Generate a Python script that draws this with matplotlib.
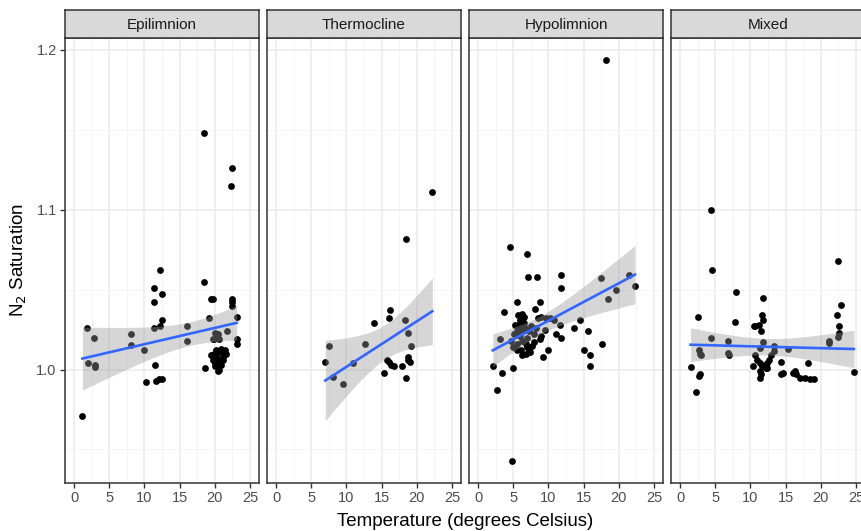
import numpy as np
import matplotlib
matplotlib.use("Agg")
import matplotlib.pyplot as plt

plt.rcParams['font.family'] = ['Liberation Sans', 'DejaVu Sans']

panels = ["Epilimnion", "Thermocline", "Hypolimnion", "Mixed"]

# temperature (deg C) and N2 saturation
epi_t = [18.4, 22.4, 22.3, 12.2, 11.3, 12.5, 11.3, 18.4, 19.5, 19.8, 22.5, 22.5,
         22.5, 23.1, 19.2, 12.5, 12.2, 11.4, 16.1, 16.1, 21.7, 1.9, 2.8, 8.1,
         8.1, 10.0, 2.0, 3.0, 3.0, 11.5, 10.2, 11.6, 12.1, 12.5, 1.2,
         20.0, 20.5, 20.2, 19.7, 20.6, 19.9, 23.1, 23.1,
         20.2, 20.6, 21.4, 20.9, 21.0,
         19.4, 19.8, 20.1, 20.4, 20.6, 20.9, 18.6, 20.3, 20.7, 21.1, 19.9,
         20.5, 21.2, 20.0, 21.6]
epi_n = [1.148, 1.126, 1.115, 1.0625, 1.051, 1.047, 1.042, 1.055, 1.044, 1.044, 1.044, 1.042,
         1.040, 1.033, 1.032, 1.031, 1.027, 1.026, 1.0275, 1.018, 1.024, 1.026, 1.020, 1.022,
         1.0155, 1.012, 1.004, 1.003, 1.0015, 1.003, 0.992, 0.993, 0.994, 0.994, 0.971,
         1.023, 1.022, 1.022, 1.019, 1.019, 1.019, 1.019, 1.016,
         1.012, 1.011, 1.012, 1.013, 1.011,
         1.009, 1.006, 1.004, 1.002, 1.000, 1.003, 1.001, 1.007, 1.005, 1.008, 1.010,
         0.999, 1.006, 1.002, 1.010]

thermo_t = [22.2, 18.5, 16.2, 16.0, 13.9, 18.3, 18.7, 19.2, 12.6, 7.5, 7.0, 11.0,
            15.8, 16.1, 16.4, 16.8, 18.7, 18.8, 19.0, 17.9, 15.3, 18.4, 8.1, 9.5]
thermo_n = [1.111, 1.082, 1.037, 1.032, 1.029, 1.031, 1.023, 1.015, 1.016, 1.015, 1.005, 1.004,
            1.006, 1.005, 1.003, 1.002, 1.008, 1.006, 1.005, 1.002, 0.998, 0.995, 0.9955, 0.991]

hypo_t = [18.2, 4.8, 4.5, 7.0, 7.1, 8.4, 11.8, 11.8, 17.5, 21.5, 22.3, 19.6, 18.4,
          5.5, 8.8, 3.7, 8.1, 5.7, 6.2, 6.4, 5.9, 5.5, 5.6, 6.2, 6.7,
          8.5, 9.0, 9.6, 10.2, 10.8, 11.7, 14.5, 13.6, 15.6, 9.0, 9.5, 8.8,
          11.1, 11.8, 4.7, 4.9, 5.5, 5.1, 5.6, 6.3, 6.8, 7.0, 7.2, 7.6, 8.0, 7.4,
          6.8, 6.3, 6.1, 3.1, 10.0, 9.3, 15.0, 15.9, 17.6, 15.9, 2.1, 3.4, 4.9, 2.7,
          5.8, 6.5, 7.3, 7.9, 6.0, 6.9, 8.3, 5.3, 6.6, 7.5, 5.9]
hypo_n = [1.194, 0.9425, 1.077, 1.0725, 1.058, 1.058, 1.059, 1.051, 1.057, 1.059, 1.0525, 1.050, 1.044,
          1.042, 1.042, 1.036, 1.038, 1.034, 1.035, 1.030, 1.029, 1.027, 1.024, 1.025, 1.026,
          1.032, 1.033, 1.032, 1.032, 1.031, 1.028, 1.031, 1.026, 1.024, 1.021, 1.025, 1.019,
          1.022, 1.020, 1.018, 1.014, 1.012, 1.022, 1.016, 1.018, 1.016, 1.014, 1.013, 1.015, 1.017, 1.011,
          1.010, 1.009, 1.012, 1.019, 1.0125, 1.008, 1.0125, 1.009, 1.016, 1.002, 1.002, 0.998, 1.001, 0.9875,
          1.027, 1.029, 1.024, 1.022, 1.031, 1.020, 1.026, 1.028, 1.033, 1.027, 1.021]

mixed_t = [4.4, 4.5, 22.4, 7.9, 11.8, 22.8, 22.3, 22.6, 22.6, 22.5, 2.5,
           11.6, 11.8, 11.2, 10.7, 10.5, 11.5, 11.8, 7.8, 4.4, 6.8, 21.2, 21.1,
           2.7, 2.9, 3.0, 6.8, 7.0, 11.3, 13.4, 13.3, 15.3,
           12.9, 12.6, 12.3, 12.1, 10.6, 10.9, 11.4, 10.3, 11.6,
           11.4, 11.5, 11.4, 12.4, 12.2, 14.4, 14.6, 14.4, 16.3, 16.1, 16.5, 18.2,
           17.1, 17.8, 18.5, 19.0, 2.8, 2.7, 1.5, 2.3, 24.7]
mixed_n = [1.100, 1.062, 1.068, 1.0485, 1.0445, 1.0405, 1.034, 1.027, 1.023, 1.0205, 1.033,
           1.034, 1.031, 1.028, 1.027, 1.027, 1.024, 1.017, 1.0295, 1.0195, 1.018, 1.018, 1.0165,
           1.0125, 1.010, 1.009, 1.0105, 1.009, 1.0135, 1.0145, 1.0115, 1.013,
           1.009, 1.006, 1.004, 1.002, 1.009, 1.006, 1.004, 1.002, 1.002,
           0.999, 0.997, 0.995, 1.001, 1.001, 1.005, 0.998, 0.997, 0.999, 0.998, 0.997, 1.004,
           0.995, 0.9945, 0.994, 0.994, 0.9975, 0.996, 1.0015, 0.986, 0.9985]

series = [(epi_t, epi_n), (thermo_t, thermo_n), (hypo_t, hypo_n), (mixed_t, mixed_n)]


def t_quant(df, z=1.959964):
    # Cornish-Fisher approximation of the 97.5% t quantile
    return z + (z**3 + z) / (4 * df) + (5 * z**5 + 16 * z**3 + 3 * z) / (96 * df**2)


def lm_band(x, y):
    x = np.asarray(x); y = np.asarray(y)
    n = len(x)
    b, a = np.polyfit(x, y, 1)
    xs = np.linspace(x.min(), x.max(), 80)
    fit = a + b * xs
    resid = y - (a + b * x)
    s = np.sqrt(np.sum(resid**2) / (n - 2))
    se = s * np.sqrt(1 / n + (xs - x.mean())**2 / np.sum((x - x.mean())**2))
    q = t_quant(n - 2)
    return xs, fit, fit - q * se, fit + q * se


W, H = 861, 531
fig = plt.figure(figsize=(W / 100, H / 100), dpi=100)

for i, (name, (tx, ny)) in enumerate(zip(panels, series)):
    left = 65 + 202 * i
    ax = fig.add_axes([left / W, (H - 483) / H, 194 / W, 445 / H])
    ax.set_xlim(-1.28, 26.28)
    ax.set_ylim(0.929, 1.2075)
    ax.set_xticks([0, 5, 10, 15, 20, 25])
    ax.set_xticks(np.arange(2.5, 26, 5), minor=True)
    ax.set_yticks([1.0, 1.1, 1.2])
    ax.set_yticks([0.95, 1.05, 1.15], minor=True)
    ax.grid(True, which='major', color='#EBEBEB', lw=1.1)
    ax.grid(True, which='minor', color='#F3F3F3', lw=0.6)
    ax.set_axisbelow(True)
    for sp in ax.spines.values():
        sp.set_color('#333333'); sp.set_linewidth(1.1)
    ax.tick_params(which='major', length=3.5, width=1, color='#333333',
                   labelsize=10.5, labelcolor='#4D4D4D', pad=2.5)
    ax.tick_params(which='minor', length=0)
    if i == 0:
        ax.set_yticklabels(['1.0', '1.1', '1.2'])
    else:
        ax.tick_params(axis='y', which='major', length=0, labelleft=False)

    ax.scatter(tx, ny, s=24, color='black', zorder=3, linewidths=0)
    xs, fit, lo, hi = lm_band(tx, ny)
    ax.fill_between(xs, lo, hi, color='#999999', alpha=0.4, lw=0, zorder=4)
    ax.plot(xs, fit, color='#3366FF', lw=1.9, zorder=5)

    sax = fig.add_axes([left / W, (H - 38) / H, 194 / W, 28 / H])
    sax.set_facecolor('#D9D9D9')
    sax.set_xticks([]); sax.set_yticks([])
    for sp in sax.spines.values():
        sp.set_color('#333333'); sp.set_linewidth(1.1)
    sax.text(0.5, 0.45, name, ha='center', va='center', fontsize=11,
             color='#1A1A1A', transform=sax.transAxes)

fig.text(465 / W, 1 - 521 / H, 'Temperature (degrees Celsius)', ha='center', va='center',
         fontsize=13.5, color='black')
fig.text(19 / W, 1 - 260 / H, 'N$_2$ Saturation', ha='center', va='center',
         rotation=90, fontsize=13.5, color='black')

fig.savefig('out.png', dpi=100)
